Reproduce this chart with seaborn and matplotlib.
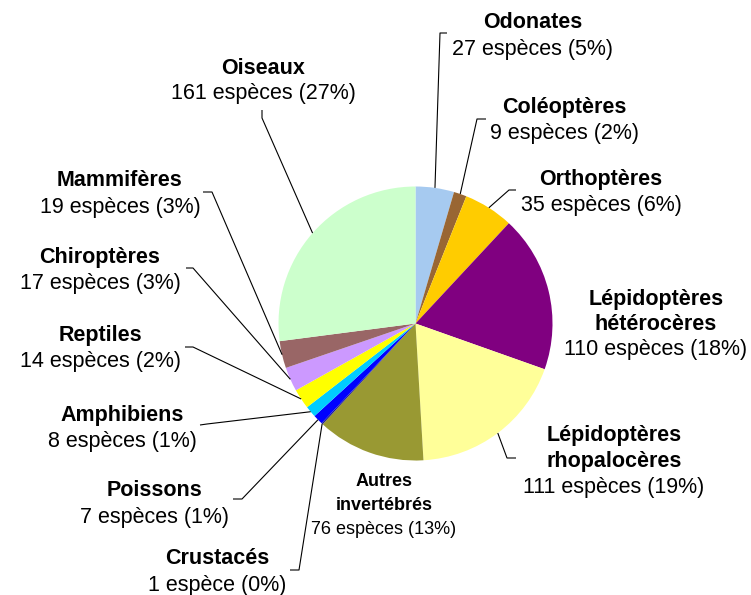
import math
import matplotlib
matplotlib.use("Agg")
import matplotlib.pyplot as plt
import seaborn as sns

# Species counts per taxonomic group, clockwise from 12 o'clock
groups = ["Odonates", "Coléoptères", "Orthoptères",
          "Lépidoptères\nhétérocères", "Lépidoptères\nrhopalocères",
          "Autres\ninvertébrés", "Crustacés", "Poissons", "Amphibiens",
          "Reptiles", "Chiroptères", "Mammifères", "Oiseaux"]
species = [27, 9, 35, 110, 111, 76, 1, 7, 8, 14, 17, 19, 161]
colors = ["#A6CAF0", "#996633", "#FFCC00", "#800080", "#FFFF99",
          "#999933", "#1F1F8F", "#0000FF", "#00CCFF", "#FFFF00",
          "#CC99FF", "#996666", "#CCFFCC"]

sns.set_theme(style="white")
plt.rcParams["font.family"] = ["Liberation Sans", "DejaVu Sans"]

W, H = 751, 595
fig = plt.figure(figsize=(W / 100, H / 100), dpi=100)
ax = fig.add_axes([0, 0, 1, 1])

# pie centre and radius in pixel space
CX, CY, R = 415.5, 323.5, 137.0


def px(x, y):
    return ((x - CX) / R, (CY - y) / R)


wedges, _ = ax.pie(species, colors=colors, startangle=90, counterclock=False,
                   radius=1, wedgeprops=dict(linewidth=0))
ax.set_xlim(px(0, 0)[0], px(W, 0)[0])
ax.set_ylim(px(0, H)[1], px(0, 0)[1])
ax.set_aspect("auto")
ax.axis("off")

# label layout: (centre x, first line y, line gap, font size)
label_layout = [
    (533, 22, 27, 15.5), (564, 108, 26, 15.5), (601, 180, 26, 15.5),
    (656, 300, 24.5, 15.5), (614, 435, 26, 15.5), (384, 482, 24, 13),
    (217, 559, 26, 15.5), (155, 490, 27, 15.5), (122, 415, 27, 15.5),
    (100, 335, 27, 15.5), (100, 258, 26, 15.5), (120, 181, 26, 15.5),
    (263, 68, 26, 15.5),
]
# leader line elbows: (elbow, end) or None
leaders = [
    ((440, 33), (447, 33)), ((477, 119), (486, 119)), ((509, 190), (516, 190)),
    None, ((507, 458), (516, 458)), None,
    ((299, 570), (290, 570)), ((242, 499), (233, 499)), ((207, 424), (200, 425)),
    ((193, 347), (185, 347)), ((193, 268), (186, 268)), ((212, 192), (203, 192)),
    ((262, 118), (262, 110)),
]

total = sum(species)
for name, n, w, lay, lead in zip(groups, species, wedges, label_layout, leaders):
    x0, y0, gap, fs = lay
    pct = round(n / total * 100)
    unit = "espèce" if n == 1 else "espèces"
    lines = name.split("\n")
    for i, ln in enumerate(lines):
        ax.text(*px(x0, y0 + i * gap), ln, ha="center", va="center",
                fontsize=fs, fontweight="bold", color="black")
    ax.text(*px(x0, y0 + len(lines) * gap), f"{n} {unit} ({pct}%)",
            ha="center", va="center", fontsize=fs, color="black")
    if lead is not None:
        th = math.radians((w.theta1 + w.theta2) / 2)
        sx, sy = math.cos(th), math.sin(th)
        (ex, ey), (tx, ty) = px(*lead[0]), px(*lead[1])
        ax.plot([sx, ex, tx], [sy, ey, ty], color="black", lw=0.8,
                solid_capstyle="butt")

fig.savefig("out.png", dpi=100)
